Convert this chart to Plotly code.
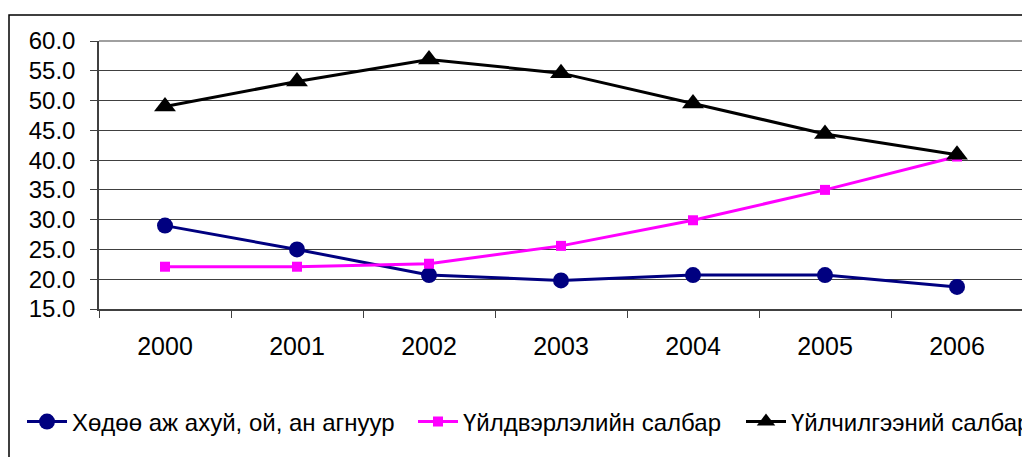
import plotly.graph_objects as go

years = ["2000", "2001", "2002", "2003", "2004", "2005", "2006"]
agri = [29.0, 25.0, 20.7, 19.8, 20.7, 20.7, 18.7]
industry = [22.1, 22.1, 22.6, 25.6, 29.9, 35.0, 40.6]
services = [49.0, 53.2, 56.9, 54.6, 49.5, 44.4, 40.9]
names = ["Хөдөө аж ахуй, ой, ан агнуур", "Үйлдвэрлэлийн салбар", "Үйлчилгээний салбар"]
y_ticks = [15, 20, 25, 30, 35, 40, 45, 50, 55, 60]

OFF = 8  # page body margin
W, H = 1030 - OFF, 457 - OFF
L, R, T, B = 99 - OFF, 1023 - OFF, 41 - OFF, 309 - OFF
pw, ph = R - L, B - T

fig = go.Figure()
fig.add_trace(go.Scatter(x=years, y=agri, name=names[0], mode="lines+markers", legend="legend",
                         line=dict(color="#000080", width=3),
                         marker=dict(symbol="circle", size=16, color="#000080")))
fig.add_trace(go.Scatter(x=years, y=industry, name=names[1], mode="lines+markers", legend="legend2",
                         line=dict(color="#FF00FF", width=3),
                         marker=dict(symbol="square", size=10, color="#FF00FF")))
fig.add_trace(go.Scatter(x=years, y=services, name=names[2], mode="lines+markers", legend="legend3",
                         line=dict(color="#000000", width=3),
                         marker=dict(symbol="triangle-up", size=19, color="#000000")))

def px_x(p):
    return (p - OFF - L) / pw

def px_y(p):
    return (B - (p - OFF)) / ph

fig.add_shape(type="rect", xref="paper", yref="paper",
              x0=px_x(9), x1=px_x(1045), y0=px_y(15), y1=px_y(475),
              line=dict(color="#000000", width=1.5), layer="below")

def leg(xpix):
    return dict(orientation="h", x=px_x(xpix), y=px_y(422), xanchor="left", yanchor="middle",
                font=dict(size=24), itemwidth=40, bgcolor="rgba(0,0,0,0)")

fig.update_layout(
    width=W, height=H,
    margin=dict(l=L, r=W - R, t=T, b=H - B, autoexpand=False),
    paper_bgcolor="white", plot_bgcolor="white",
    font=dict(family="Liberation Sans, Arial, sans-serif", size=24, color="#000000"),
    showlegend=True,
    legend=leg(22), legend2=leg(413), legend3=leg(741),
    xaxis=dict(type="category", showgrid=False, ticks="outside", tickson="boundaries",
               ticklen=7, tickcolor="#404040", showline=True, linecolor="#404040", linewidth=1.5,
               mirror=False, ticklabelstandoff=14, range=[-0.5, 6.5], tickfont=dict(size=25),
               automargin=False),
    yaxis=dict(range=[15, 60], tickvals=y_ticks, ticktext=[f"{v:.1f}" for v in y_ticks],
               showgrid=True, gridcolor="#404040", gridwidth=1.2, ticks="outside", ticklen=7,
               tickcolor="#404040", showline=True, linecolor="#404040", linewidth=1.5,
               zeroline=False, ticklabelstandoff=10, tickfont=dict(size=24), automargin=False),
)
fig.add_shape(type="line", xref="paper", yref="paper", x0=1, x1=1, y0=0, y1=1,
              line=dict(color="#808080", width=1.5))
fig.add_shape(type="line", xref="paper", yref="paper", x0=0, x1=1, y0=1, y1=1,
              line=dict(color="#808080", width=1.5), layer="below")

fig.write_html("out.html")
